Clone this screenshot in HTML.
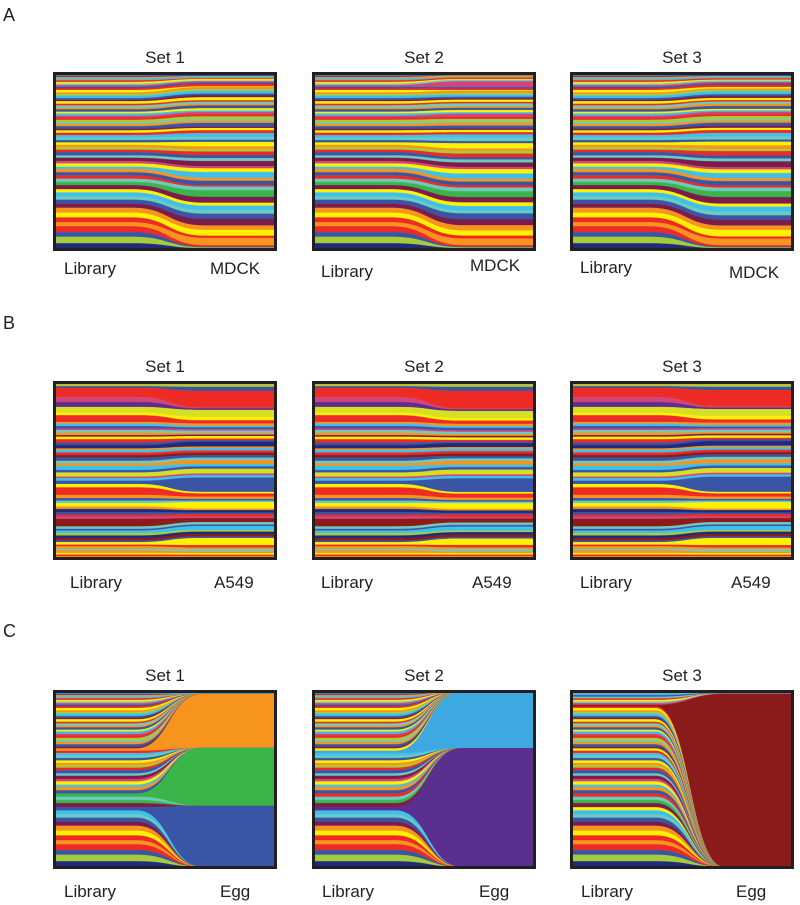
<!DOCTYPE html>
<html><head><meta charset="utf-8"><style>
body{margin:0;background:#fff;}
svg{display:block;font-family:"Liberation Sans",Arial,sans-serif;}
text{fill:#231f20;}
</style></head><body>
<svg id="fig" width="800" height="905" viewBox="0 0 800 905"></svg>
<script>
// ---------- data ----------
const palette = {n:'#202a7c',g:'#a5cd3a',b:'#3a55a5',r:'#ee2a24',o:'#f7941d',y:'#fff200',Y:'#d7df23',t:'#6ccbbf',m:'#7b1c4c',G:'#39b54a',c:'#3fc0ec',p:'#5e2d8e',k:'#d2457c',d:'#8b1a1a',s:'#8d8d8d',L:'#3da9e0',P:'#5b2f8f'};
const colorsA = "sbocrytk bryogcbm yrtobyck rgtobmyr ctbyogrb tmkycobr tGmyctbm oyrorbgn";
const colorsB = "ogbrrkpY yrrocbkt omyrbnoc rdbtocbY kcbyrrob tyonbrkd dtbcgndb yrotoyro";
const libraryA = [2,2,2,2,2,2,2,2, 2,2,3,2,2,3,2,2, 3,2,3,2,3,2,3,2, 3,3,2,3,3,2,3,3, 3,3,3,3,3,3,3,4, 3,4,3,4,3,4,4,4, 4,4,5,4,5,4,5,5, 6,6,6,5,7,6,8,7];
const mdck1 = [1,2,1,2,1,2,1,2, 2,3,1,3,2,4,2,3, 4,2,3,2,4,3,2,3, 3,4,2,3,5,2,3,4, 5,4,3,6,4,3,5,4, 4,7,3,5,8,4,6,2, 5,9,8,4,6,5,7,9, 6,8,3,10,2,1,1,1];
const mdck2 = [1,1,2,1,2,1,2,8, 2,2,1,3,2,3,2,2, 3,2,4,2,3,3,2,4, 3,3,2,4,4,2,3,3, 4,5,3,7,3,4,5,3, 4,6,3,6,7,4,5,3, 5,8,7,5,6,4,8,8, 7,7,4,9,2,1,1,1];
const mdck3 = [1,2,1,2,2,1,2,2, 2,3,2,2,2,4,2,3, 3,2,3,3,4,2,2,3, 3,4,2,3,4,3,3,4, 5,4,3,5,5,3,6,4, 4,8,3,5,7,4,6,3, 5,8,9,4,7,5,6,8, 6,9,3,9,2,1,1,1];
const libraryB = [2,2,2,8,3,6,6,7, 3,3,5,2,3,3,2,3, 3,2,3,4,3,4,2,3, 3,3,4,3,3,5,3,5, 2,3,4,4,6,3,4,3, 3,4,3,4,3,2,3,6, 3,3,2,3,3,3,3,2, 3,2,3,2,3,2,2,2];
const a549_1 = [2,3,5,20,1,1,2,9, 4,2,2,3,2,2,2,3, 2,2,3,2,2,6,2,3, 3,3,3,3,5,3,3,6, 2,3,18,2,2,2,3,2, 2,8,2,3,2,3,2,2, 3,3,2,5,2,3,3,2, 9,3,2,3,2,2,2,2];
const a549_2 = [2,3,5,21,1,1,2,9, 3,2,2,3,2,3,2,3, 2,2,3,2,2,5,2,3, 3,3,3,3,5,3,3,6, 2,3,17,2,2,3,3,2, 2,7,2,3,2,3,2,2, 3,3,2,5,2,3,3,2, 8,3,2,3,2,2,2,2];
const a549_3 = [2,3,4,20,1,1,2,9, 4,2,2,3,2,2,2,3, 2,2,3,2,2,6,2,3, 3,3,3,3,5,3,3,6, 2,3,19,2,2,2,3,2, 2,8,2,3,2,3,2,2, 3,3,2,5,2,3,3,2, 9,3,2,3,2,2,2,2];
// Egg: dominant strands (index, output share, colour)
const eggIdx1 = [0,30,47,51], eggVal1 = [2,55,59,62], eggCol1 = ['c','o','G','b'];
const eggIdx2 = [31,51], eggVal2 = [57,120], eggCol2 = ['L','P'];
const eggIdx3 = [0,1,2,3,8], eggVal3 = [0.5,0.5,0.5,0.5,178], eggCol3 = ['s','c','b','t','d'];

const panels = [
 {row:'A',set:1,x:53,y:72,colors:colorsA,left:libraryA,right:mdck1,t0:0.35,t1:0.68,lab:'MDCK',ll:[64,274],rl:[210,274]},
 {row:'A',set:2,x:312,y:72,colors:colorsA,left:libraryA,right:mdck2,t0:0.35,t1:0.68,lab:'MDCK',ll:[321,277],rl:[470,271]},
 {row:'A',set:3,x:570,y:72,colors:colorsA,left:libraryA,right:mdck3,t0:0.35,t1:0.68,lab:'MDCK',ll:[580,273],rl:[729,278]},
 {row:'B',set:1,x:53,y:381,colors:colorsB,left:libraryB,right:a549_1,t0:0.38,t1:0.66,lab:'A549',ll:[70,588],rl:[214,588]},
 {row:'B',set:2,x:312,y:381,colors:colorsB,left:libraryB,right:a549_2,t0:0.38,t1:0.66,lab:'A549',ll:[321,588],rl:[472,588]},
 {row:'B',set:3,x:570,y:381,colors:colorsB,left:libraryB,right:a549_3,t0:0.38,t1:0.66,lab:'A549',ll:[580,588],rl:[731,588]},
 {row:'C',set:1,x:53,y:690,colors:colorsA,left:libraryA,egg:[eggIdx1,eggVal1,eggCol1],t0:0.37,t1:0.67,lab:'Egg',ll:[64,897],rl:[220,897]},
 {row:'C',set:2,x:312,y:690,colors:colorsA,left:libraryA,egg:[eggIdx2,eggVal2,eggCol2],t0:0.37,t1:0.67,lab:'Egg',ll:[322,897],rl:[479,897]},
 {row:'C',set:3,x:570,y:690,colors:colorsA,left:libraryA,egg:[eggIdx3,eggVal3,eggCol3],t0:0.38,t1:0.69,lab:'Egg',ll:[581,897],rl:[736,897]}
];
// ---------- drawing ----------
const NS='http://www.w3.org/2000/svg';
const svg=document.getElementById('fig');
function mk(tag,attrs,parent){const e=document.createElementNS(NS,tag);for(const k in attrs)e.setAttribute(k,attrs[k]);(parent||svg).appendChild(e);return e;}
const W=224,H=179;
[['A',14],['B',322],['C',630]].forEach(([l,y])=>{
 const t=mk('text',{x:3,y:y+7,'font-size':18});t.textContent=l;
 
 
});
panels.forEach(p=>{
 const g=mk('g',{});
 
 
 const cols=p.colors.replace(/ /g,'').split('');
 const N=cols.length;
 let right=p.right?p.right.slice():new Array(N).fill(0);
 if(p.egg){p.egg[0].forEach((ix,j)=>{right[ix]=p.egg[1][j];cols[ix]=p.egg[2][j];});}
 const left=p.left;
 const ix0=p.x+2,iw=W-4,iy0=p.y+2,ih=H-4;
 const sl=left.reduce((a,b)=>a+b,0), sr=right.reduce((a,b)=>a+b,0);
 const sx=f=>ix0+f*iw;
 const yl=v=>iy0+v/sl*ih, yr=v=>iy0+v/sr*ih;
 const xa=sx(p.t0),xb=sx(p.t1),xm=(xa+xb)/2,xe=ix0+iw;
 let cl=0,cr=0;
 for(let i=0;i<N;i++){
  const a0=yl(cl),a1=yl(cl+left[i]),b0=yr(cr),b1=yr(cr+right[i]);
  cl+=left[i];cr+=right[i];
  const d=`M${ix0},${a0} L${xa},${a0} C${xm},${a0} ${xm},${b0} ${xb},${b0} L${xe},${b0} L${xe},${b1} L${xb},${b1} C${xm},${b1} ${xm},${a1} ${xa},${a1} L${ix0},${a1} Z`;
  const s=mk('path',{d:d,fill:palette[cols[i]]||'#888',stroke:palette[cols[i]]||'#888','stroke-width':0.3},g);
  
  
 }
 const fr=mk('rect',{x:p.x+1.5,y:p.y+1.5,width:W-3,height:H-3,fill:'none',stroke:'#231f20','stroke-width':3},g);
 
 
 const t=mk('text',{x:p.x+W/2,y:p.y-9,'font-size':17,'text-anchor':'middle'},g);
 t.textContent='Set '+p.set;
 
 
 const l1=mk('text',{x:p.ll[0],y:p.ll[1],'font-size':17},g);
 l1.textContent='Library';
 
 
 const l2=mk('text',{x:p.rl[0],y:p.rl[1],'font-size':17},g);
 l2.textContent=p.lab;
 
 
});
</script>
</body></html>
